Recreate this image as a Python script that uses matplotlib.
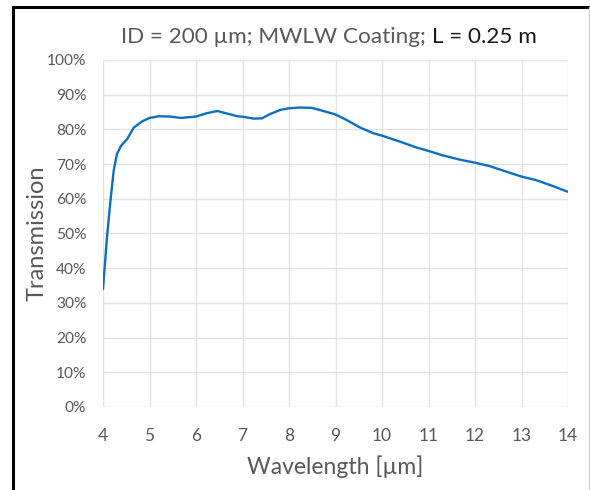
import matplotlib
matplotlib.use("Agg")
import matplotlib.pyplot as plt
from matplotlib.lines import Line2D
from matplotlib.ticker import FuncFormatter

wavelength = [4.0, 4.086, 4.16, 4.23, 4.30, 4.39, 4.52, 4.66, 4.84, 5.0, 5.2, 5.45, 5.67,
              6.0, 6.24, 6.46, 6.6, 6.89, 7.03, 7.24, 7.42, 7.59, 7.81, 8.0, 8.24, 8.49,
              8.74, 9.0, 9.24, 9.52, 9.81, 10.0, 10.38, 10.74, 11.0, 11.31, 11.67, 12.0,
              12.32, 12.68, 13.0, 13.31, 13.67, 14.0]
transmission = [34.0, 48.9, 59.4, 68.1, 72.9, 75.3, 77.2, 80.5, 82.3, 83.3, 83.8, 83.7, 83.3,
                83.7, 84.7, 85.3, 84.8, 83.8, 83.6, 83.1, 83.2, 84.4, 85.6, 86.1, 86.3, 86.2,
                85.3, 84.3, 82.7, 80.6, 78.9, 78.2, 76.5, 74.8, 73.8, 72.5, 71.3, 70.4,
                69.4, 67.8, 66.4, 65.4, 63.7, 62.0]
x_ticks = list(range(4, 15))
y_ticks = list(range(0, 101, 10))

plt.rcParams['font.family'] = ['Lato', 'DejaVu Sans']
fig = plt.figure(figsize=(5.9, 4.9), dpi=100)
ax = fig.add_axes([103/590, 1 - 407/490, (568-103)/590, (407-60)/490])

ax.plot(wavelength, transmission, color='#0E6FC1', lw=1.7, solid_capstyle='round')
ax.set_xlim(4, 14)
ax.set_ylim(0, 100)
ax.set_xticks(x_ticks)
ax.set_yticks(y_ticks)
ax.yaxis.set_major_formatter(FuncFormatter(lambda v, p: f"{int(v)}%"))
ax.grid(True, color='#e3e3e3', lw=1)
ax.set_axisbelow(True)
for s in ax.spines.values():
    s.set_visible(False)
ax.tick_params(axis='y', length=0, labelsize=11.2, colors='#595959', pad=12)
ax.tick_params(axis='x', length=0, labelsize=12.5, colors='#595959', pad=15)
ax.set_xlabel('Wavelength [µm]', fontsize=16.5, color='#595959', va='center')
ax.set_ylabel('Transmission', fontsize=17, color='#595959', va='center')
ax.xaxis.set_label_coords(0.5, (407 - 466.7) / 347)
ax.yaxis.set_label_coords((36.7 - 103) / 465, 0.5)

t1 = fig.text(121/590, 1 - 37/490, 'ID = 200 µm; MWLW Coating; ', fontsize=16.2,
              color='#595959', ha='left', va='center')
fig.canvas.draw()
bb = t1.get_window_extent()
fig.text(bb.x1 / fig.bbox.width, 1 - 37/490, 'L = 0.25 m', fontsize=16.2,
         color='#1a1a1a', ha='left', va='center')

# frame border
fig.add_artist(Line2D([13/590, 13/590], [0, 1 - 7.5/490], color='black', lw=2.2, transform=fig.transFigure))
fig.add_artist(Line2D([13/590, 1], [1 - 7.5/490, 1 - 7.5/490], color='black', lw=2.2, transform=fig.transFigure))
fig.add_artist(Line2D([589/590, 589/590], [0, 1 - 7.5/490], color='#d0d0d0', lw=1, transform=fig.transFigure))

fig.savefig('out.png', dpi=100)
